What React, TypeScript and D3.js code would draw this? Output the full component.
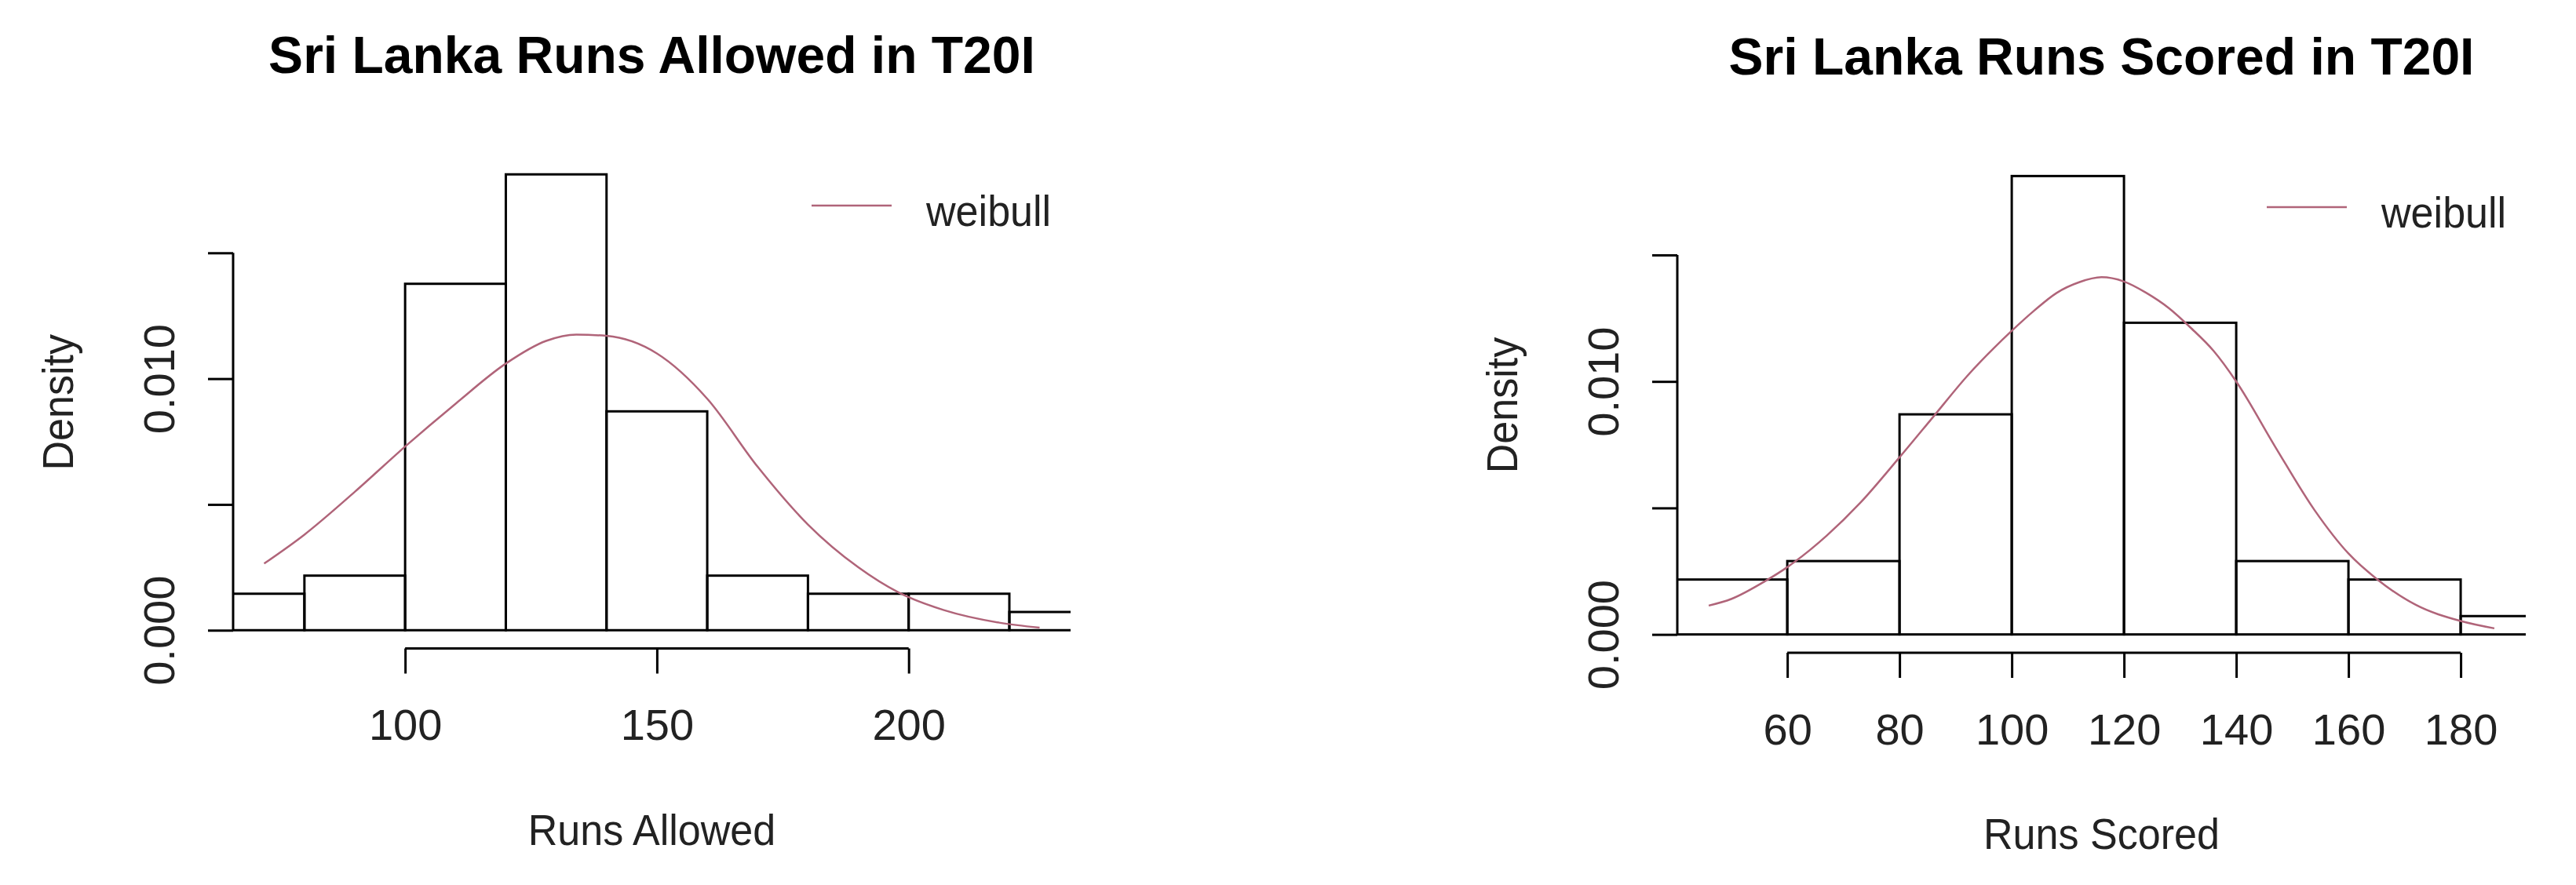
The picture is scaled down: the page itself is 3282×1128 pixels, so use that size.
import React, { useRef, useEffect } from 'react'
import * as d3 from 'd3'

// histogram breaks and densities
const allowedBreaks = [60, 80, 100, 120, 140, 160, 180, 200, 220, 240]
const allowedDensity = [0.00145, 0.00217, 0.01377, 0.01812, 0.0087, 0.00217, 0.00145, 0.00145, 0.000725]
// fitted weibull curve, sampled by eye
const allowedCurveX = [72, 80, 90, 100, 110, 120, 128, 134, 140, 150, 160, 170, 180, 190, 198, 207, 218, 226]
const allowedCurveY = [0.00265, 0.0038, 0.0055, 0.0073, 0.009, 0.0106, 0.0115, 0.01175, 0.0117, 0.011, 0.0092, 0.0065, 0.0042, 0.0025, 0.0015, 0.0008, 0.0003, 0.0001]
const allowedTicks = [100, 150, 200]

const scoredBreaks = [40, 60, 80, 100, 120, 140, 160, 180, 200]
const scoredDensity = [0.00217, 0.0029, 0.0087, 0.01812, 0.01232, 0.0029, 0.00217, 0.000725]
const scoredCurveX = [46, 50, 56, 60, 67, 73, 80, 86, 92, 100, 104, 108, 112, 116, 120, 124, 128, 132, 136, 140, 147, 154, 160, 165, 172, 180, 186]
const scoredCurveY = [0.00114, 0.0014, 0.0021, 0.00266, 0.0039, 0.0052, 0.007, 0.0086, 0.0102, 0.012, 0.0128, 0.0135, 0.01392, 0.01412, 0.01395, 0.0135, 0.0129, 0.0121, 0.0112, 0.01, 0.0074, 0.0049, 0.0032, 0.0022, 0.00117, 0.00053, 0.00024]
const scoredTicks = [60, 80, 100, 120, 140, 160, 180]

const densityTicks = [0, 0.005, 0.01, 0.015]
const densityLabels = ["0.000", "", "0.010", ""]

const FONT = "'Liberation Sans', Arial, sans-serif"
const CURVE_COL = "#b06479"
const SQUEEZE = 0.93 // the word labels in the original are a bit narrow

const HistPanel = ({ id, title, xLabel, breaks, density, curveX, curveY, xTicks, layout }) => {
  const ref = useRef(null)

  useEffect(() => {
    const g = d3.select(ref.current)
    g.selectAll("*").remove()
    const { left, right, top, bottom } = layout

    // R style: 4% extension on the data range
    const lo = curveX[0], hi = curveX[curveX.length - 1], r = hi - lo
    const ymax = d3.max(density)
    const x = d3.scaleLinear().domain([lo - 0.04 * r, hi + 0.04 * r]).range([left, right])
    const y = d3.scaleLinear().domain([-0.04 * ymax, 1.04 * ymax]).range([bottom, top])

    g.append("clipPath").attr("id", id)
      .append("rect")
      .attr("x", left).attr("y", top)
      .attr("width", right - left).attr("height", bottom - top)

    const bins = density.map((d, i) => ({ x0: breaks[i], x1: breaks[i + 1], d }))

    const plot = g.append("g").attr("clip-path", `url(#${id})`)
    plot.selectAll(".bins")
      .data(bins)
      .join("rect")
      .attr("class", "bins")
      .attr("x", d => x(d.x0))
      .attr("width", d => x(d.x1) - x(d.x0))
      .attr("y", d => y(d.d))
      .attr("height", d => y(0) - y(d.d))
      .attr("fill", "none")
      .attr("stroke", "#000")
      .attr("stroke-width", 3)

    const line = d3.line()
      .x(d => x(d[0]))
      .y(d => y(d[1]))
      .curve(d3.curveMonotoneX)
    plot.append("path")
      .datum(curveX.map((v, i) => [v, curveY[i]]))
      .attr("d", line)
      .attr("fill", "none")
      .attr("stroke", CURVE_COL)
      .attr("stroke-width", 2.5)

    // x axis, line only between first and last tick
    const xAxis = g.append("g")
      .attr("transform", `translate(0,${bottom})`)
      .call(d3.axisBottom(x).tickValues(xTicks).tickSize(32).tickPadding(45).tickFormat(d3.format("d")))
    xAxis.select(".domain").remove()
    xAxis.append("line")
      .attr("x1", x(xTicks[0])).attr("x2", x(xTicks[xTicks.length - 1]))
      .attr("stroke", "#000").attr("stroke-width", 3)
    xAxis.selectAll(".tick line").attr("stroke", "#000").attr("stroke-width", 3)
    xAxis.selectAll("text")
      .attr("fill", "#222")
      .style("font-family", FONT)
      .style("font-size", "56px")

    // y axis with rotated labels
    const yAxis = g.append("g")
      .attr("transform", `translate(${left},0)`)
      .call(d3.axisLeft(y).tickValues(densityTicks).tickSize(32).tickFormat((d, i) => densityLabels[i]))
    yAxis.select(".domain").remove()
    yAxis.append("line")
      .attr("y1", y(densityTicks[0])).attr("y2", y(densityTicks[densityTicks.length - 1]))
      .attr("stroke", "#000").attr("stroke-width", 3)
    yAxis.selectAll(".tick line").attr("stroke", "#000").attr("stroke-width", 3)
    yAxis.selectAll("text")
      .attr("x", null).attr("dy", null)
      .attr("text-anchor", "middle")
      .attr("transform", "translate(-75,0) rotate(-90)")
      .attr("fill", "#222")
      .style("font-family", FONT)
      .style("font-size", "56px")

    g.append("text")
      .attr("transform", `translate(${left - 204},${(top + bottom) / 2}) rotate(-90) scale(${SQUEEZE},1)`)
      .attr("text-anchor", "middle")
      .attr("fill", "#222")
      .style("font-family", FONT)
      .style("font-size", "56px")
      .text("Density")

    g.append("text")
      .attr("transform", `translate(${(left + right) / 2},${bottom + 250}) scale(${SQUEEZE},1)`)
      .attr("text-anchor", "middle")
      .attr("fill", "#222")
      .style("font-family", FONT)
      .style("font-size", "56px")
      .text(xLabel)

    g.append("text")
      .attr("x", (left + right) / 2)
      .attr("y", top - 106)
      .attr("text-anchor", "middle")
      .attr("fill", "#000")
      .style("font-family", FONT)
      .style("font-size", "66px")
      .style("font-weight", "bold")
      .text(title)

    // legend, top right, no box
    const ly = top + 63
    g.append("line")
      .attr("x1", right - 330).attr("x2", right - 228)
      .attr("y1", ly).attr("y2", ly)
      .attr("stroke", CURVE_COL).attr("stroke-width", 2.5)
    g.append("text")
      .attr("transform", `translate(${right - 184},${ly + 26}) scale(${SQUEEZE},1)`)
      .attr("fill", "#222")
      .style("font-family", FONT)
      .style("font-size", "56px")
      .text("weibull")
  }, [id, title, xLabel, breaks, density, curveX, curveY, xTicks, layout])

  return <g ref={ref} />
}

const leftLayout = { left: 297, right: 1364, top: 199, bottom: 826.5 }
const rightLayout = { left: 2137, right: 3218, top: 201, bottom: 832 }

export default function App() {
  return (
    <div>
      <style>{`body{margin:0}`}</style>
      <svg width={3282} height={1128} style={{ display: "block", background: "#fff" }}>
        <HistPanel id="clipAllowed" title="Sri Lanka Runs Allowed in T20I" xLabel="Runs Allowed"
          breaks={allowedBreaks} density={allowedDensity}
          curveX={allowedCurveX} curveY={allowedCurveY}
          xTicks={allowedTicks} layout={leftLayout} />
        <HistPanel id="clipScored" title="Sri Lanka Runs Scored in T20I" xLabel="Runs Scored"
          breaks={scoredBreaks} density={scoredDensity}
          curveX={scoredCurveX} curveY={scoredCurveY}
          xTicks={scoredTicks} layout={rightLayout} />
      </svg>
    </div>
  )
}
